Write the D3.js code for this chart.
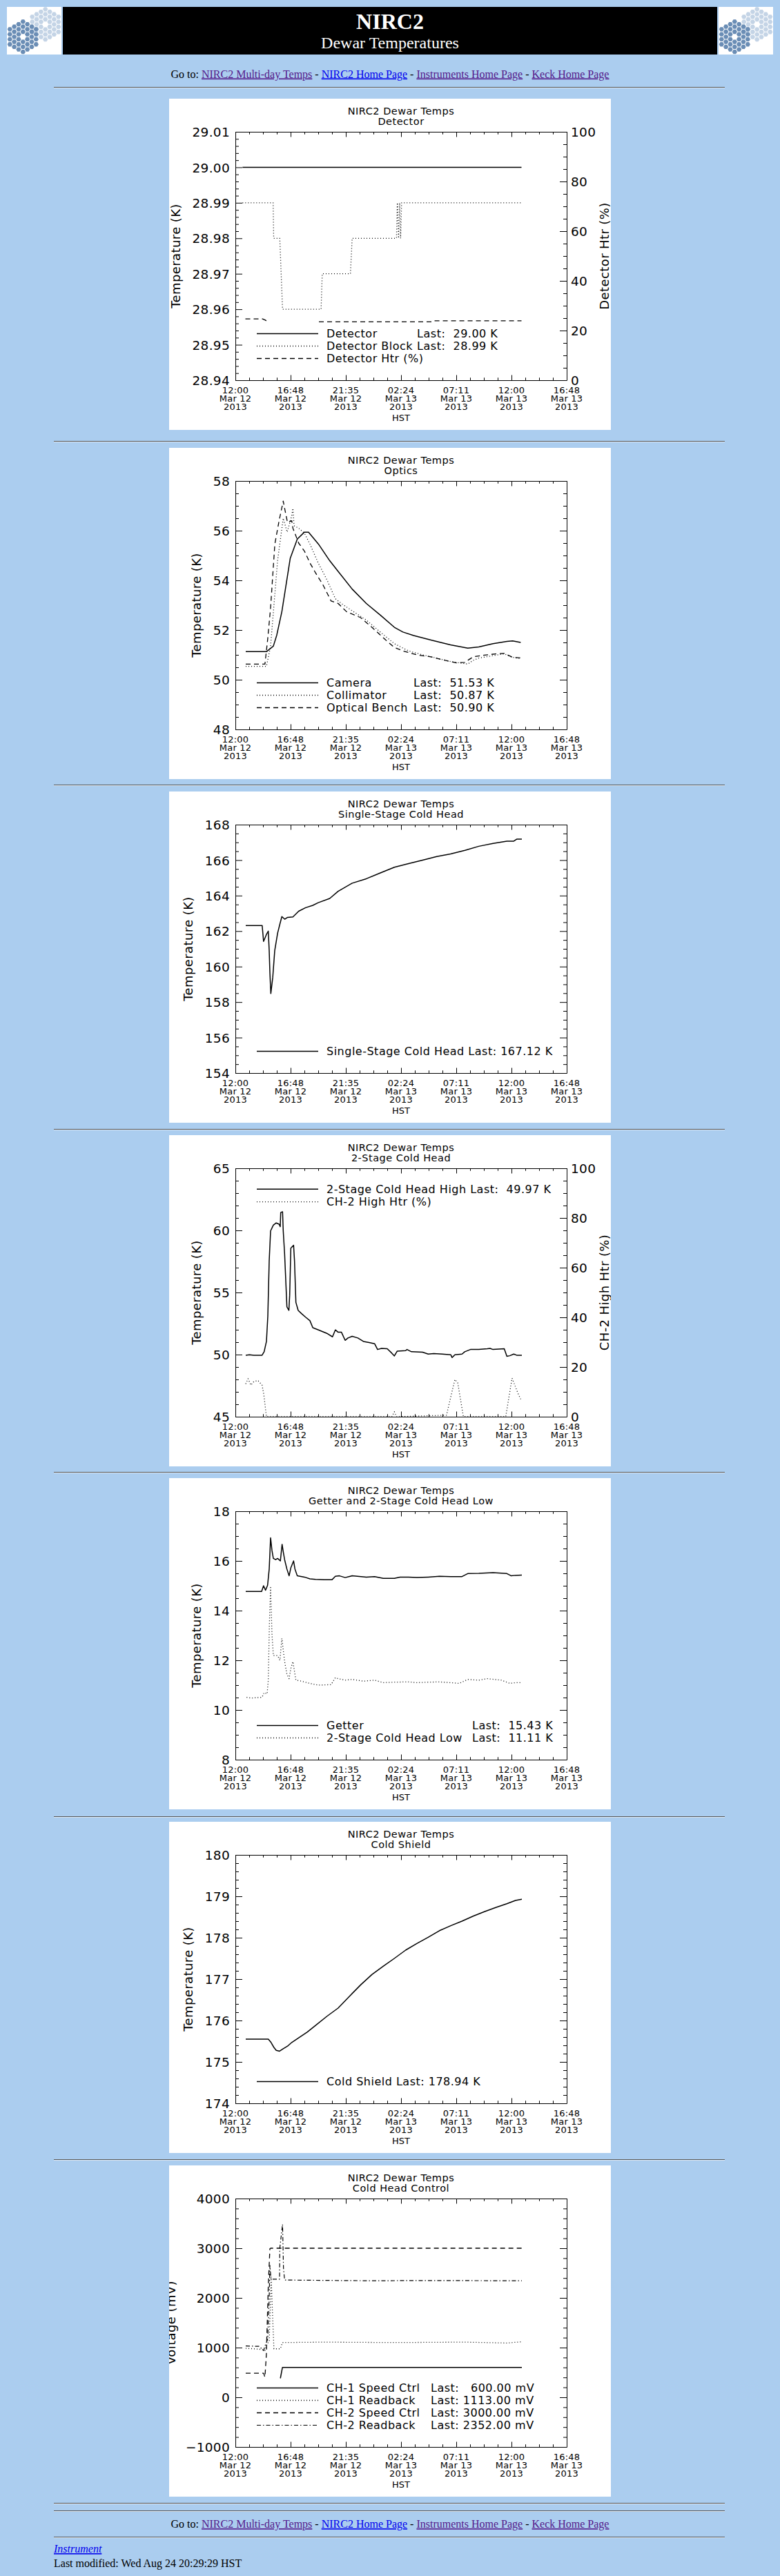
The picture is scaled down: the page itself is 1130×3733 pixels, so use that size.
<!DOCTYPE html>
<html><head><meta charset="utf-8">
<script src="https://cdn.jsdelivr.net/npm/d3@7/dist/d3.min.js"></script>
<style>
html,body{margin:0;padding:0;background:#ABCDEF;}
svg{display:block;}
.pt{font-family:"DejaVu Sans","Liberation Sans",sans-serif;font-weight:normal;fill:#000;}
.serif{font-family:"Liberation Serif","Times New Roman",serif;}
</style></head><body>
<svg id="page" width="1130" height="3733"></svg>
<script>
// ---------------- DATA (hours since 12:00 HST Mar 12 2013, value) ----------------
const xTickTime=["12:00","16:48","21:35","02:24","07:11","12:00","16:48"];
const xTickDay=["Mar 12","Mar 12","Mar 12","Mar 13","Mar 13","Mar 13","Mar 13"];
const xTickYear=["2013","2013","2013","2013","2013","2013","2013"];
const spanHours=28.8;

const detYTicks=["28.94","28.95","28.96","28.97","28.98","28.99","29.00","29.01"];
const htrYTicks=["0","20","40","60","80","100"];
const optYTicks=["48","50","52","54","56","58"];
const sscYTicks=["154","156","158","160","162","164","166","168"];
const ch2YTicks=["45","50","55","60","65"];
const getYTicks=["8","10","12","14","16","18"];
const csYTicks=["174","175","176","177","178","179","180"];
const chcYTicks=["\u22121000","0","1000","2000","3000","4000"];

const detectorK=[[0.62,29.0],[6,29.0],[12,29.0],[18,29.0],[24.87,29.0]];
const detBlockK=[[0.62,28.99],[3.28,28.99],[3.33,28.98],[3.86,28.98],[4.1,28.96],[7.45,28.96],[7.55,28.97],[10.0,28.97],[10.15,28.98],[14.0,28.98],[14.08,28.99],[14.18,28.98],[14.28,28.99],[14.36,28.98],[14.45,28.99],[24.87,28.99]];
const detHtrPct=[[0.87,24.7],[2.36,24.7],[2.6,24.2],[2.9,23.3],[5,null],[7.26,23.5],[17.16,23.5],[17.29,23.9],[24.87,23.9]];

const cameraK=[[0.9,51.13],[2.7,51.13],[3.3,51.35],[3.6,51.8],[4.04,52.74],[4.77,54.89],[5.38,55.66],[6.0,55.94],[6.36,55.94],[7.22,55.46],[8.2,54.79],[8.93,54.36],[10.15,53.65],[11.38,53.07],[12.6,52.6],[13.82,52.11],[14.56,51.92],[15.5,51.78],[17.0,51.6],[18.7,51.4],[20.2,51.27],[21.16,51.32],[22.4,51.45],[23.6,51.54],[24.1,51.56],[24.8,51.5]];
const collimatorK=[[0.9,50.54],[2.7,50.54],[3.06,51.35],[3.67,54.8],[4.16,56.5],[4.5,55.94],[4.9,56.6],[5.0,56.9],[5.1,56.2],[5.5,56.1],[6.0,55.9],[6.48,55.46],[7.2,54.7],[7.95,54.03],[8.69,53.26],[9.42,53.0],[10.4,52.7],[11.38,52.4],[12.6,51.92],[13.82,51.45],[15.05,51.16],[16.27,51.0],[17.5,50.87],[18.7,50.73],[20.2,50.63],[20.67,50.78],[21.16,50.87],[22.4,50.97],[23.37,51.04],[24.1,50.9],[24.8,50.85]];
const benchK=[[0.9,50.63],[2.57,50.63],[2.81,51.64],[3.06,52.9],[3.43,55.46],[3.8,56.4],[4.16,57.19],[4.28,56.9],[4.53,56.33],[4.9,56.4],[5.0,56.1],[5.5,55.5],[6.0,55.18],[6.48,54.7],[6.97,54.3],[7.59,53.84],[8.32,53.17],[8.93,53.07],[9.66,52.74],[10.89,52.5],[11.87,52.11],[13.09,51.59],[13.82,51.3],[14.56,51.16],[15.78,51.0],[17.0,50.92],[18.23,50.78],[19.21,50.68],[19.94,50.7],[20.67,50.92],[21.65,50.99],[22.63,51.04],[23.37,51.06],[24.1,50.9],[24.8,50.88]];

const sscHeadK=[[0.9,162.31],[2.33,162.31],[2.45,161.42],[2.69,161.8],[2.86,162.0],[2.94,160.9],[3.0,159.66],[3.08,158.48],[3.25,159.4],[3.42,160.9],[3.67,161.88],[3.87,162.4],[4.04,162.82],[4.29,162.67],[4.53,162.77],[5.0,162.8],[5.5,163.12],[6.1,163.32],[6.73,163.45],[7.2,163.6],[8.2,163.84],[8.93,164.24],[10.15,164.7],[11.38,164.95],[12.6,165.28],[13.82,165.6],[15.05,165.8],[16.27,166.0],[17.5,166.2],[18.7,166.35],[19.96,166.55],[21.16,166.78],[22.4,166.94],[23.6,167.07],[24.2,167.07],[24.45,167.18],[24.9,167.18]];

const ch2HighK=[[0.9,49.95],[1.22,49.99],[1.6,49.95],[2.32,49.95],[2.5,50.23],[2.7,51.06],[2.82,53.1],[2.94,57.55],[3.06,59.96],[3.3,60.42],[3.55,60.6],[3.8,60.5],[3.9,60.3],[3.94,61.44],[4.1,61.5],[4.16,59.96],[4.28,58.1],[4.48,53.84],[4.65,53.56],[4.72,54.77],[4.82,58.57],[5.06,58.8],[5.14,57.55],[5.26,54.2],[5.46,53.56],[5.75,53.3],[6.12,53.0],[6.48,52.73],[6.73,52.17],[7.22,51.99],[7.95,51.71],[8.44,51.43],[8.69,51.99],[8.93,51.8],[9.22,51.8],[9.54,51.15],[9.79,51.34],[10.15,51.47],[10.64,51.34],[11.13,51.06],[11.62,50.97],[12.1,50.88],[12.36,50.41],[12.7,50.5],[13.2,50.47],[13.58,50.13],[13.82,49.89],[14.07,50.28],[14.8,50.32],[14.92,50.41],[15.3,50.23],[16.27,50.19],[16.76,50.04],[17.25,50.09],[17.98,50.04],[18.72,49.99],[18.84,49.76],[19.08,49.99],[19.7,50.04],[19.94,50.23],[20.43,50.41],[21.16,50.41],[21.9,50.47],[22.14,50.5],[22.39,50.41],[23.37,50.47],[23.6,49.86],[23.85,49.91],[24.2,50.04],[24.45,49.95],[24.9,49.95]];
const ch2HtrPct=[[0.9,13.2],[1.1,15.3],[1.35,12.7],[1.6,14.1],[1.96,14.6],[2.32,12.7],[2.47,9.0],[2.7,0],[13.6,0],[13.82,2.0],[14.0,0],[18.35,0.6],[19.08,15.0],[19.33,13.6],[19.82,0],[23.5,0],[24.05,15.5],[24.6,9.0],[24.8,7.1]];

const getterK=[[0.9,14.77],[2.28,14.77],[2.45,15.0],[2.62,14.82],[2.8,15.02],[2.94,15.67],[3.06,16.93],[3.18,16.42],[3.3,16.1],[3.5,16.05],[3.67,16.1],[3.91,16.0],[4.06,16.67],[4.16,16.37],[4.28,16.05],[4.48,15.67],[4.67,15.4],[4.82,15.72],[5.06,16.0],[5.18,15.67],[5.38,15.4],[6.0,15.35],[6.48,15.28],[6.97,15.26],[7.7,15.24],[8.39,15.24],[8.69,15.38],[9.05,15.4],[9.54,15.33],[10.15,15.4],[11.38,15.35],[12.1,15.37],[12.85,15.3],[13.82,15.3],[14.31,15.35],[15.05,15.35],[15.78,15.33],[16.76,15.35],[17.74,15.38],[18.72,15.37],[19.7,15.37],[20.2,15.49],[21.16,15.5],[22.4,15.53],[23.6,15.49],[23.98,15.4],[24.35,15.42],[24.9,15.43]];
const ch2LowK=[[0.98,10.51],[1.35,10.48],[2.32,10.51],[2.5,10.7],[2.76,10.65],[2.86,11.2],[2.96,13.53],[3.06,14.93],[3.18,13.07],[3.3,12.19],[3.67,12.19],[3.87,12.0],[4.04,12.88],[4.28,11.95],[4.48,11.44],[4.67,11.26],[4.82,11.67],[5.0,11.95],[5.26,11.2],[5.75,11.16],[6.48,11.07],[7.22,11.0],[8.32,11.02],[8.69,11.3],[8.93,11.26],[9.54,11.2],[10.15,11.23],[11.13,11.16],[12.1,11.2],[12.85,11.1],[13.82,11.12],[15.05,11.13],[15.78,11.1],[16.76,11.12],[17.74,11.13],[18.72,11.1],[19.45,11.07],[20.2,11.23],[21.16,11.2],[21.9,11.26],[23.12,11.2],[23.86,11.07],[24.35,11.1],[24.9,11.1]];

const shieldK=[[0.9,175.55],[2.86,175.55],[3.1,175.47],[3.35,175.35],[3.55,175.28],[3.84,175.26],[4.16,175.32],[4.53,175.38],[4.9,175.47],[5.5,175.58],[6.24,175.72],[6.97,175.88],[7.95,176.1],[8.93,176.3],[9.9,176.58],[10.89,176.86],[11.87,177.11],[12.85,177.31],[13.82,177.5],[14.8,177.7],[15.78,177.86],[16.76,178.01],[17.74,178.17],[18.72,178.29],[19.7,178.4],[20.67,178.52],[21.65,178.63],[22.63,178.73],[23.6,178.82],[24.35,178.9],[24.9,178.93]];

const ch1SpeedMV=[[3.91,382],[4.09,600],[14,600],[24.9,600]];
const ch1ReadMV=[[0.9,985],[1.6,976],[2.32,962],[2.57,940],[2.76,1078],[2.94,1124],[3.06,2006],[3.11,2423],[3.25,1542],[3.35,976],[3.91,976],[4.09,1101],[7.7,1110],[13.8,1101],[19.9,1110],[23.6,1092],[24.8,1115]];
const ch2SpeedMV=[[0.9,484],[2.45,484],[2.57,405],[2.69,846],[2.86,2237],[3.0,2989],[3.06,3000],[14,3000],[24.9,3000]];
const ch2ReadMV=[[0.9,1032],[2.08,1025],[2.45,939],[2.57,1032],[2.81,1170],[2.94,2006],[3.0,2655],[3.1,2377],[3.84,2377],[3.86,3000],[4.1,3480],[4.18,2600],[4.28,2360],[8,2352],[12,2345],[16,2350],[20,2348],[24.9,2345]];

const detLegend=[["Detector","Last:  29.00 K"],["Detector Block","Last:  28.99 K"],["Detector Htr (%)",null]];
const optLegend=[["Camera","Last:  51.53 K"],["Collimator","Last:  50.87 K"],["Optical Bench","Last:  50.90 K"]];
const sscLegend=[["Single-Stage Cold Head Last: 167.12 K",null]];
const ch2Legend=[["2-Stage Cold Head High Last:  49.97 K",null],["CH-2 High Htr (%)",null]];
const getLegend=[["Getter","Last:  15.43 K"],["2-Stage Cold Head Low","Last:  11.11 K"]];
const csLegend=[["Cold Shield Last: 178.94 K",null]];
const chcLegend=[["CH-1 Speed Ctrl","Last:   600.00 mV"],["CH-1 Readback","Last: 1113.00 mV"],["CH-2 Speed Ctrl","Last: 3000.00 mV"],["CH-2 Readback","Last: 2352.00 mV"]];

const navLinks=[["NIRC2 Multi-day Temps","#551A8B"],["NIRC2 Home Page","#0000EE"],["Instruments Home Page","#551A8B"],["Keck Home Page","#551A8B"]];

// ---------------- PAGE ----------------
const svg=d3.select("#page");
svg.append("rect").attr("width",1130).attr("height",3733).attr("fill","#ABCDEF");

function logo(x0){
  const id="lg"+x0;
  const g=svg.append("g").attr("transform",`translate(${x0},10)`);
  g.append("clipPath").attr("id",id).append("rect").attr("width",79).attr("height",69);
  const c=g.append("g").attr("clip-path",`url(#${id})`);
  c.append("rect").attr("width",79).attr("height",69).attr("fill","#fff");
  const R=4.22;
  const cells=[];
  for(let q=-3;q<=3;q++)for(let r=-3;r<=3;r++){const s=-q-r;const d=Math.max(Math.abs(q),Math.abs(r),Math.abs(s));if(d>=1&&d<=3)cells.push([q,r]);}
  const hex=(cx,cy,rad)=>d3.range(6).map(k=>[cx+rad*Math.cos(k*Math.PI/3),cy+rad*Math.sin(k*Math.PI/3)]);
  [[55.7,25.3,"#C4D4E6"],[23.3,43.3,"#6A8DB5"]].forEach(([cx,cy,col])=>{
    cells.forEach(([q,r])=>{
      const px=cx+1.5*R*q, py=cy+Math.sqrt(3)*R*(r+q/2);
      c.append("polygon").attr("points",hex(px,py,R*0.86).map(p=>p.join(",")).join(" ")).attr("fill",col);
    });
  });
}
logo(10); logo(1041);
svg.append("rect").attr("x",91).attr("y",10).attr("width",948).attr("height",69).attr("fill","#000");
svg.append("text").attr("class","serif").attr("x",565).attr("y",42).attr("text-anchor","middle")
  .attr("font-size",32).attr("font-weight","bold").attr("fill","#fff").text("NIRC2");
svg.append("text").attr("class","serif").attr("x",565).attr("y",70).attr("text-anchor","middle")
  .attr("font-size",24).attr("fill","#fff").text("Dewar Temperatures");

function goTo(yy){
  const t=svg.append("text").attr("class","serif").attr("x",565).attr("y",yy).attr("text-anchor","middle")
    .attr("font-size",16).style("white-space","pre").attr("fill","#000");
  t.append("tspan").text("Go to: ");
  navLinks.forEach((l,i)=>{
    if(i) t.append("tspan").attr("fill","#000").text(" - ");
    t.append("tspan").attr("fill",l[1]).attr("text-decoration","underline").text(l[0]);
  });
}
goTo(112.5); goTo(3663);

[126,639,1137,1636,2133,2632,3129,3627,3638,3676].forEach(yy=>{
  svg.append("rect").attr("x",78).attr("y",yy).attr("width",972).attr("height",1).attr("fill","#555");
  svg.append("rect").attr("x",78).attr("y",yy+1).attr("width",972).attr("height",1).attr("fill","#dde8f4");
});
svg.append("text").attr("class","serif").attr("x",78).attr("y",3699).attr("font-size",16)
  .attr("font-style","italic").attr("fill","#0000EE").attr("text-decoration","underline").text("Instrument");
svg.append("text").attr("class","serif").attr("x",78).attr("y",3720).attr("font-size",16)
  .attr("fill","#000").text("Last modified: Wed Aug 24 20:29:29 HST");

// ---------------- CHARTS ----------------
const dashes={solid:null,dot:"1,3",dash:"7,5",dashdot:"6,3,1.5,3"};
const widths={solid:1.5,dot:1.3,dash:1.3,dashdot:1.2};
const num=s=>+String(s).replace("\u2212","-");
function minorVals(ticks,count){
  const v=ticks.map(num), st=(v[1]-v[0])/count, out=[];
  for(let k=0;k<(v.length-1)*count;k++){ if(k%count) out.push(v[0]+k*st); }
  return out;
}
const PL=96,PR=576,PT=48,PB=408;

function chart(cfg){
  const id="ch"+cfg.top;
  const g=svg.append("g").attr("transform",`translate(245,${cfg.top})`);
  g.append("clipPath").attr("id",id).append("rect").attr("width",640).attr("height",480);
  g.append("clipPath").attr("id",id+"b").append("rect").attr("x",PL).attr("y",PT-1).attr("width",PR-PL).attr("height",PB-PT+2);
  const P=g.append("g").attr("clip-path",`url(#${id})`);
  P.append("rect").attr("width",640).attr("height",480).attr("fill","#fff");

  const x=d3.scaleLinear().domain([0,spanHours]).range([PL,PR]);
  const yv=cfg.yT.map(num);
  const y=d3.scaleLinear().domain([yv[0],yv[yv.length-1]]).range([PB,PT]);
  let y2=null;
  if(cfg.y2T){const v2=cfg.y2T.map(num); y2=d3.scaleLinear().domain([v2[0],v2[v2.length-1]]).range([PB,PT]);}

  const xMaj=xTickTime.map((_,i)=>i*spanHours/(xTickTime.length-1));
  const xMin=d3.range((xMaj.length-1)*4).filter(k=>k%4).map(k=>k*spanHours/((xMaj.length-1)*4));

  const ax=(sel)=>{sel.selectAll("path,line").attr("stroke","#000").attr("stroke-width",1);return sel;};
  ax(P.append("g").attr("transform",`translate(0,${PB})`).call(d3.axisBottom(x).tickValues(xMaj).tickSizeInner(-7.5).tickSizeOuter(0).tickFormat("")));
  ax(P.append("g").attr("transform",`translate(0,${PB})`).call(d3.axisBottom(x).tickValues(xMin).tickSizeInner(-3.75).tickSizeOuter(0).tickFormat(""))).select(".domain").remove();
  ax(P.append("g").attr("transform",`translate(0,${PT})`).call(d3.axisTop(x).tickValues(xMaj).tickSizeInner(-7.5).tickSizeOuter(0).tickFormat("")));
  ax(P.append("g").attr("transform",`translate(0,${PT})`).call(d3.axisTop(x).tickValues(xMin).tickSizeInner(-3.75).tickSizeOuter(0).tickFormat(""))).select(".domain").remove();
  const la=ax(P.append("g").attr("transform",`translate(${PL},0)`).call(d3.axisLeft(y).tickValues(yv).tickSizeInner(-10).tickSizeOuter(0).tickPadding(8).tickFormat((d,i)=>cfg.yT[i])));
  la.selectAll("text").attr("class","pt").attr("font-size",18.5).attr("dy","0.36em").attr("letter-spacing",0.3);
  ax(P.append("g").attr("transform",`translate(${PL},0)`).call(d3.axisLeft(y).tickValues(minorVals(cfg.yT,cfg.yMin)).tickSizeInner(-5).tickSizeOuter(0).tickFormat(""))).select(".domain").remove();
  if(y2){
    const v2=cfg.y2T.map(num);
    const ra=ax(P.append("g").attr("transform",`translate(${PR},0)`).call(d3.axisRight(y2).tickValues(v2).tickSizeInner(-10).tickSizeOuter(0).tickPadding(6).tickFormat((d,i)=>cfg.y2T[i])));
    ra.selectAll("text").attr("class","pt").attr("font-size",18.5).attr("dy","0.36em").attr("letter-spacing",0.3);
    ax(P.append("g").attr("transform",`translate(${PR},0)`).call(d3.axisRight(y2).tickValues(minorVals(cfg.y2T,cfg.y2Min)).tickSizeInner(-5).tickSizeOuter(0).tickFormat(""))).select(".domain").remove();
  } else {
    ax(P.append("g").attr("transform",`translate(${PR},0)`).call(d3.axisRight(y).tickValues(yv).tickSizeInner(-10).tickSizeOuter(0).tickFormat("")));
    ax(P.append("g").attr("transform",`translate(${PR},0)`).call(d3.axisRight(y).tickValues(minorVals(cfg.yT,cfg.yMin)).tickSizeInner(-5).tickSizeOuter(0).tickFormat(""))).select(".domain").remove();
  }

  const xl=P.append("g").attr("class","pt").attr("font-size",13).attr("text-anchor","middle").attr("letter-spacing",0.2);
  xTickTime.forEach((t,i)=>{
    const tx=xl.append("text").attr("x",x(xMaj[i]));
    tx.append("tspan").attr("x",x(xMaj[i])).attr("y",427).text(t);
    tx.append("tspan").attr("x",x(xMaj[i])).attr("y",439).text(xTickDay[i]);
    tx.append("tspan").attr("x",x(xMaj[i])).attr("y",451).text(xTickYear[i]);
  });
  P.append("text").attr("class","pt").attr("x",(PL+PR)/2).attr("y",466.5).attr("font-size",13).attr("text-anchor","middle").text("HST");

  P.append("text").attr("class","pt").attr("x",(PL+PR)/2).attr("y",23).attr("font-size",14.5).attr("letter-spacing",0.5).attr("text-anchor","middle").text("NIRC2 Dewar Temps");
  P.append("text").attr("class","pt").attr("x",(PL+PR)/2).attr("y",38).attr("font-size",14.5).attr("letter-spacing",0.5).attr("text-anchor","middle").text(cfg.sub);
  P.append("text").attr("class","pt").attr("transform",`translate(${cfg.ylX},${(PT+PB)/2}) rotate(-90)`).attr("font-size",18).attr("letter-spacing",0.4).attr("text-anchor","middle").text(cfg.yl);
  if(cfg.y2l) P.append("text").attr("class","pt").attr("transform",`translate(637,${(PT+PB)/2}) rotate(-90)`).attr("font-size",18).attr("letter-spacing",0.4).attr("text-anchor","middle").text(cfg.y2l);

  const D=P.append("g").attr("clip-path",`url(#${id}b)`);
  cfg.series.forEach(s=>{
    const ys=s.ax2?y2:y;
    D.append("path").datum(s.d).attr("fill","none").attr("stroke","#000")
      .attr("stroke-width",widths[s.st]).attr("stroke-dasharray",dashes[s.st])
      .attr("stroke-linejoin","round")
      .attr("d",d3.line().defined(d=>d[1]!=null).x(d=>x(d[0])).y(d=>ys(d[1])));
  });

  const LG=P.append("g");
  let nameW=0;
  cfg.leg.forEach((r,i)=>{
    const yy=cfg.legY[i];
    const s=cfg.series[i];
    LG.append("line").attr("x1",127).attr("x2",216).attr("y1",yy).attr("y2",yy).attr("stroke","#000")
      .attr("stroke-width",widths[s.st]).attr("stroke-dasharray",dashes[s.st]);
    const t=LG.append("text").attr("class","pt").attr("x",228).attr("y",yy+5.5).attr("font-size",16)
      .attr("letter-spacing",0.5).style("white-space","pre").text(r[0]);
    if(r[1]) nameW=Math.max(nameW,t.node().getComputedTextLength());
  });
  cfg.leg.forEach((r,i)=>{
    if(!r[1]) return;
    const lx=Math.max(cfg.lastX,228+nameW+6);
    LG.append("text").attr("class","pt").attr("x",lx).attr("y",cfg.legY[i]+5.5).attr("font-size",16)
      .attr("letter-spacing",0.5).style("white-space","pre").text(r[1]);
  });
}

const legBottom=n=>d3.range(n).map(i=>376.5-(n-1-i)*18);

chart({top:143,sub:"Detector",yl:"Temperature (K)",ylX:16,yT:detYTicks,yMin:5,y2T:htrYTicks,y2Min:4,y2l:"Detector Htr (%)",
  series:[{d:detectorK,st:"solid"},{d:detBlockK,st:"dot"},{d:detHtrPct,st:"dash",ax2:true}],
  leg:detLegend,legY:legBottom(3),lastX:357});
chart({top:649,sub:"Optics",yl:"Temperature (K)",ylX:46,yT:optYTicks,yMin:4,
  series:[{d:cameraK,st:"solid"},{d:collimatorK,st:"dot"},{d:benchK,st:"dash"}],
  leg:optLegend,legY:legBottom(3),lastX:354});
chart({top:1147,sub:"Single-Stage Cold Head",yl:"Temperature (K)",ylX:34,yT:sscYTicks,yMin:4,
  series:[{d:sscHeadK,st:"solid"}],
  leg:sscLegend,legY:legBottom(1),lastX:0});
chart({top:1645,sub:"2-Stage Cold Head",yl:"Temperature (K)",ylX:46,yT:ch2YTicks,yMin:5,y2T:htrYTicks,y2Min:4,y2l:"CH-2 High Htr (%)",
  series:[{d:ch2HighK,st:"solid"},{d:ch2HtrPct,st:"dot",ax2:true}],
  leg:ch2Legend,legY:[78.3,96.7],lastX:0});
chart({top:2142,sub:"Getter and 2-Stage Cold Head Low",yl:"Temperature (K)",ylX:46,yT:getYTicks,yMin:4,
  series:[{d:getterK,st:"solid"},{d:ch2LowK,st:"dot"}],
  leg:getLegend,legY:legBottom(2),lastX:439});
chart({top:2640,sub:"Cold Shield",yl:"Temperature (K)",ylX:34,yT:csYTicks,yMin:5,
  series:[{d:shieldK,st:"solid"}],
  leg:csLegend,legY:legBottom(1),lastX:0});
chart({top:3138,sub:"Cold Head Control",yl:"Voltage (mV)",ylX:9,yT:chcYTicks,yMin:5,
  series:[{d:ch1SpeedMV,st:"solid"},{d:ch1ReadMV,st:"dot"},{d:ch2SpeedMV,st:"dash"},{d:ch2ReadMV,st:"dashdot"}],
  leg:chcLegend,legY:legBottom(4),lastX:379});
</script></body></html>
